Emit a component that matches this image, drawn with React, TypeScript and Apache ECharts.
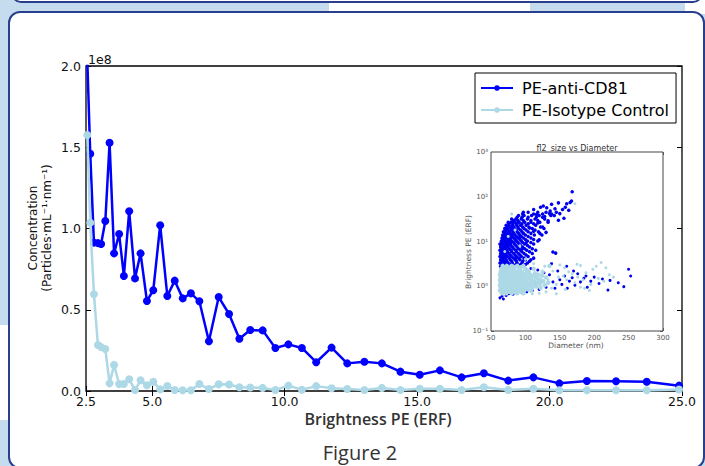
import React, { useEffect, useRef } from 'react';
import * as echarts from 'echarts';

// ---------- main chart data (concentration in units of 1e8) ----------
const binCenters = [2.55, 2.66, 2.8, 2.95, 3.07, 3.23, 3.39, 3.56, 3.75, 3.93, 4.13, 4.35, 4.56, 4.8, 5.04, 5.3, 5.57, 5.85, 6.15, 6.46, 6.78, 7.14, 7.51, 7.9, 8.29, 8.7, 9.17, 9.65, 10.14, 10.65, 11.19, 11.77, 12.36, 13.01, 13.67, 14.37, 15.1, 15.86, 16.68, 17.52, 18.44, 19.39, 20.37, 21.41, 22.51, 23.67, 24.89];
const cd81Conc = [2.03, 1.46, 0.913, 0.91, 0.905, 1.046, 1.528, 0.847, 0.966, 0.708, 1.106, 0.693, 0.847, 0.554, 0.62, 1.02, 0.585, 0.679, 0.57, 0.601, 0.552, 0.306, 0.578, 0.474, 0.322, 0.375, 0.373, 0.265, 0.287, 0.265, 0.177, 0.267, 0.17, 0.18, 0.17, 0.119, 0.1, 0.127, 0.084, 0.109, 0.064, 0.084, 0.047, 0.062, 0.06, 0.057, 0.033];
const isotypeConc = [1.575, 1.036, 0.595, 0.283, 0.27, 0.258, 0.047, 0.16, 0.043, 0.043, 0.072, 0.006, 0.066, 0.035, 0.057, 0.01, 0.031, 0.006, 0.005, 0.005, 0.043, 0.012, 0.041, 0.04, 0.023, 0.022, 0.019, 0.006, 0.033, 0.008, 0.03, 0.017, 0.012, 0.006, 0.019, 0.006, 0.014, 0.014, 0.006, 0.023, 0.006, 0.014, 0.005, 0.005, 0.005, 0.005, 0.009];
const mainXTicks = [2.5, 5, 10, 15, 20, 25];
const seriesNames = ['PE-anti-CD81', 'PE-Isotype Control'];

// ---------- inset scatter data: [diameter nm, brightness ERF] ----------
const insetCd81CloudRows: [number, number[]][] = [
  [2.8, [64, 68, 72, 77, 83, 90, 97]],
  [3.05, [66, 70, 74, 79, 86, 93, 100]],
  [3.3, [63, 66, 70, 75, 81, 88, 95, 103]],
  [3.6, [65, 68, 73, 80, 87, 96, 106]],
  [3.9, [64, 67, 72, 78, 85, 92, 100, 108]],
  [4.25, [65, 68, 71, 77, 83, 90, 98, 112]],
  [4.6, [63, 66, 69, 74, 80, 87, 94, 104]],
  [5.0, [65, 67, 72, 78, 85, 92, 101]],
  [5.4, [64, 68, 71, 76, 83, 90, 98, 110]],
  [5.9, [65, 69, 74, 80, 87, 95, 106]],
  [6.4, [63, 66, 70, 73, 79, 86, 93, 102, 115]],
  [6.9, [65, 68, 72, 77, 83, 90, 99, 110]],
  [7.5, [64, 67, 71, 75, 81, 88, 96, 106]],
  [8.1, [65, 69, 73, 79, 86, 93, 103]],
  [8.8, [63, 65, 69, 73, 77, 84, 91, 99, 112]],
  [9.5, [66, 70, 74, 79, 83, 89, 96, 108]],
  [10.3, [65, 68, 72, 76, 80, 87, 94, 103, 118]],
  [11.1, [67, 70, 74, 78, 85, 92, 100, 112]],
  [12, [66, 70, 74, 78, 83, 89, 97, 108]],
  [13, [68, 72, 76, 81, 87, 94, 104]],
  [14, [67, 71, 75, 80, 85, 92, 100, 113, 124]],
  [15.2, [70, 73, 78, 83, 90, 97, 108, 121]],
  [16.5, [68, 72, 77, 82, 88, 95, 104, 119]],
  [18, [71, 75, 80, 86, 93, 101, 114]],
  [19.5, [70, 74, 79, 84, 90, 98, 110, 127]],
  [21, [73, 78, 83, 89, 96, 105, 122]],
  [23, [72, 76, 81, 87, 93, 101, 115]],
  [25, [76, 82, 88, 95, 104, 112]],
  [27, [75, 79, 85, 91, 99, 108, 121, 133]],
  [29.5, [82, 89, 97, 108, 118]],
  [32, [80, 86, 94, 103, 114, 128]],
  [35, [88, 95, 104, 116, 125]],
  [38, [90, 98, 109, 120, 137]],
  [41, [96, 112, 125, 138]],
  [45, [104, 118, 130, 145]],
];
const insetCd81Sparse: [number, number][] = [
  [112, 52], [122, 58], [126, 62], [131, 57], [136, 48], [138, 68], [143, 54], [148, 73], [150, 42], [154, 52],
  [158, 58], [160, 70], [163, 50], [165, 74], [167, 80], [168, 130], [142, 38], [135, 42], [128, 36], [133, 29],
  [148, 30], [156, 33], [118, 26], [125, 21], [130, 16], [112, 17], [120, 11], [140, 5.8], [144, 5.5], [106, 20],
  [116, 40], [97, 45], [86, 4.2], [74, 8.1], [92, 13], [79, 21], [69, 3.6], [101, 9.4], [83, 29], [95, 6.9],
];
const insetCd81Band: [number, number][] = [
  [63, 0.55], [66, 0.6], [68, 0.52], [72, 0.62], [76, 0.68], [82, 0.66], [88, 0.7], [95, 0.72], [102, 0.75], [110, 0.8],
  [115, 1.1], [120, 0.85], [125, 1.3], [130, 0.95], [135, 1.8], [140, 1.25], [143, 0.9], [147, 2.2], [150, 1.4], [153, 1.1],
  [157, 1.7], [161, 0.9], [164, 1.3], [168, 1.55], [172, 1.05], [176, 1.9], [180, 1.25], [185, 1.5], [190, 0.95], [195, 1.3],
  [200, 1.6], [207, 1.15], [212, 1.45], [220, 0.82], [223, 1.35], [235, 1.2], [243, 0.98], [250, 2.4], [253, 1.7], [138, 3.2],
  [160, 2.8], [118, 2.3], [127, 2.0], [108, 2.5], [170, 2.2], [188, 1.7],
];
const insetIsoCoreRows: [number, number[]][] = [
  [0.7, [66, 72, 80, 88, 97]],
  [0.75, [69, 76, 84, 93]],
  [0.8, [63, 68, 74, 81, 89, 98, 108]],
  [0.86, [66, 71, 78, 85, 94, 103]],
  [0.92, [64, 69, 75, 82, 90, 99, 110, 122]],
  [0.98, [66, 72, 79, 86, 95, 105, 116]],
  [1.05, [63, 67, 72, 78, 85, 93, 102, 114, 128]],
  [1.12, [65, 70, 76, 82, 90, 98, 109, 121]],
  [1.2, [64, 69, 74, 80, 87, 95, 105, 118, 133]],
  [1.29, [66, 71, 77, 84, 92, 101, 113, 126]],
  [1.38, [63, 67, 72, 77, 83, 90, 98, 109, 121]],
  [1.48, [65, 70, 75, 81, 88, 96, 106, 118]],
  [1.58, [64, 68, 73, 79, 86, 94, 103, 115, 130]],
  [1.7, [66, 70, 76, 83, 91, 100, 111, 124]],
  [1.82, [63, 67, 71, 76, 82, 89, 97, 107, 119]],
  [1.95, [65, 69, 74, 79, 85, 93, 101, 114]],
  [2.1, [64, 69, 74, 80, 87, 95, 105, 125]],
  [2.27, [67, 72, 78, 84, 92, 102]],
  [2.45, [65, 70, 76, 83, 91, 100, 112]],
  [2.65, [68, 75, 84, 93]],
  [2.85, [67, 73, 80, 88, 97, 135]],
];
const insetIsoSparse: [number, number][] = [
  [140, 2.2], [145, 1.1], [150, 3.0], [155, 1.7], [160, 1.4], [163, 2.1], [168, 1.9], [172, 1.2], [176, 1.6], [180, 2.9],
  [184, 1.4], [188, 2.0], [193, 0.8], [198, 2.4], [203, 2.8], [206, 1.5], [210, 3.4], [214, 1.3], [217, 2.6], [222, 1.8],
  [228, 1.6], [145, 0.68], [130, 0.75], [120, 0.7], [110, 0.68], [138, 0.9], [158, 0.85], [180, 0.95], [80, 41], [172, 70],
  [75, 13], [92, 8], [70, 6], [85, 18], [100, 4], [112, 3.2], [128, 2.8], [157, 2.6], [175, 3.1], [195, 1.1],
  [133, 1.4], [148, 1.6], [186, 0.9], [118, 1.5],
];

const SUP: Record<string, string> = { '-': '⁻', '0': '⁰', '1': '¹', '2': '²', '3': '³', '4': '⁴' };
const supText = (n: number) => String(n).split('').map((c) => SUP[c] || c).join('');
const flattenRows = (rows: [number, number[]][]) => {
  const out: [number, number][] = [];
  rows.forEach(([y, xs]) => xs.forEach((x) => out.push([x, y])));
  return out;
};

const MPL = 'DejaVu Sans';
const PAGE = '"Open Sans", sans-serif';

export default function App() {
  const ref = useRef<HTMLDivElement>(null);
  useEffect(() => {
    if (!ref.current) return;
    const chart = echarts.init(ref.current, undefined, { renderer: 'svg' });
    const tickStyle = { color: '#000', width: 1 };
    const insetTick = { color: '#444', width: 0.8 };
    const logLabel = (v: number) => '10' + supText(Math.round(Math.log10(v)));
    const option: any = {
      animation: false,
      grid: [
        { left: 86, right: 23, top: 66, bottom: 75, show: true, borderColor: '#000', borderWidth: 1.3, backgroundColor: 'transparent' },
        { left: 491, right: 42, top: 152, bottom: 135, show: true, borderColor: '#444', borderWidth: 1, backgroundColor: '#fff', z: 3 },
      ],
      xAxis: [
        {
          gridIndex: 0, type: 'value', min: 2.5, max: 25, interval: 2.5,
          axisLine: { show: false }, splitLine: { show: false },
          axisTick: { inside: true, length: 5, customValues: mainXTicks, lineStyle: tickStyle },
          axisLabel: { customValues: mainXTicks, formatter: (v: number) => v.toFixed(1), margin: 4, fontSize: 12.5, fontFamily: MPL, color: '#111' },
        },
        {
          gridIndex: 0, type: 'value', position: 'top', min: 2.5, max: 25, interval: 2.5,
          axisLine: { show: false }, splitLine: { show: false },
          axisTick: { inside: true, length: 5, customValues: mainXTicks, lineStyle: tickStyle },
          axisLabel: { show: false },
        },
        {
          gridIndex: 1, type: 'value', min: 50, max: 300, interval: 50,
          axisLine: { show: false }, splitLine: { show: false },
          axisTick: { inside: true, length: 3, lineStyle: insetTick },
          axisLabel: { margin: 3, fontSize: 7, fontFamily: MPL, color: '#555' },
        },
        {
          gridIndex: 1, type: 'value', position: 'top', min: 50, max: 300, interval: 50,
          axisLine: { show: false }, splitLine: { show: false },
          axisTick: { inside: true, length: 3, lineStyle: insetTick },
          axisLabel: { show: false },
        },
      ],
      yAxis: [
        {
          gridIndex: 0, type: 'value', min: 0, max: 2, interval: 0.5,
          axisLine: { show: false }, splitLine: { show: false },
          axisTick: { inside: true, length: 5, lineStyle: tickStyle },
          axisLabel: { formatter: (v: number) => v.toFixed(1), margin: 5, fontSize: 12.5, fontFamily: MPL, color: '#111' },
        },
        {
          gridIndex: 0, type: 'value', position: 'right', min: 0, max: 2, interval: 0.5,
          axisLine: { show: false }, splitLine: { show: false },
          axisTick: { inside: true, length: 5, lineStyle: tickStyle },
          axisLabel: { show: false },
        },
        {
          gridIndex: 1, type: 'log', logBase: 10, min: 0.1, max: 1000,
          axisLine: { show: false }, splitLine: { show: false },
          axisTick: { inside: true, length: 3, lineStyle: insetTick },
          axisLabel: { formatter: logLabel, margin: 3, fontSize: 7, fontFamily: MPL, color: '#555' },
        },
        {
          gridIndex: 1, type: 'log', logBase: 10, min: 0.1, max: 1000, position: 'right',
          axisLine: { show: false }, splitLine: { show: false },
          axisTick: { inside: true, length: 3, lineStyle: insetTick },
          axisLabel: { show: false },
        },
      ],
      legend: {
        orient: 'vertical', left: 475, top: 73,
        backgroundColor: '#fff', borderColor: '#000', borderWidth: 1, borderRadius: 0,
        padding: [7, 7, 5, 5], itemGap: 6, itemWidth: 32, itemHeight: 7,
        textStyle: { fontFamily: MPL, fontSize: 16, color: '#000', padding: [0, 0, 0, 4] },
        data: seriesNames,
      },
      series: [
        {
          name: seriesNames[0], type: 'line', xAxisIndex: 0, yAxisIndex: 0, clip: true,
          data: binCenters.map((x, i) => [x, cd81Conc[i]]),
          symbol: 'circle', symbolSize: 8,
          lineStyle: { color: '#0000ff', width: 2.5 }, itemStyle: { color: '#0000ff' }, z: 2,
        },
        {
          name: seriesNames[1], type: 'line', xAxisIndex: 0, yAxisIndex: 0, clip: true,
          data: binCenters.map((x, i) => [x, isotypeConc[i]]),
          symbol: 'circle', symbolSize: 8,
          lineStyle: { color: '#add8e6', width: 2.5 }, itemStyle: { color: '#add8e6' }, z: 3,
        },
        {
          type: 'scatter', xAxisIndex: 2, yAxisIndex: 2, symbolSize: 3, z: 4,
          data: insetCd81Band, itemStyle: { color: '#0000ee', opacity: 1 },
        },
        {
          type: 'scatter', xAxisIndex: 2, yAxisIndex: 2, symbolSize: 3.5, z: 4,
          data: flattenRows(insetCd81CloudRows).concat(insetCd81Sparse), itemStyle: { color: '#0000ee', opacity: 1 },
        },
        {
          type: 'scatter', xAxisIndex: 2, yAxisIndex: 2, symbolSize: 4.5, z: 5,
          data: flattenRows(insetIsoCoreRows), itemStyle: { color: '#add8e6', opacity: 1 },
        },
        {
          type: 'scatter', xAxisIndex: 2, yAxisIndex: 2, symbolSize: 3, z: 5,
          data: insetIsoSparse, itemStyle: { color: '#add8e6', opacity: 1 },
        },
      ],
      graphic: [
        { type: 'text', x: 88, y: 59, style: { text: '1e8', fontFamily: MPL, fontSize: 12.5, fill: '#111', align: 'left', verticalAlign: 'middle' } },
        {
          type: 'text', x: 40, y: 228, rotation: Math.PI / 2,
          style: { text: 'Concentration\n(Particles·mL⁻¹·nm⁻¹)', fontFamily: MPL, fontSize: 12, lineHeight: 14, fill: '#111', align: 'center', verticalAlign: 'middle' },
        },
        { type: 'text', x: 378, y: 419, style: { text: 'Brightness PE (ERF)', fontFamily: PAGE, fontWeight: 600, fontSize: 16, fill: '#333', align: 'center', verticalAlign: 'middle' } },
        { type: 'text', x: 360, y: 452, style: { text: 'Figure 2', fontFamily: PAGE, fontSize: 20, fill: '#333', align: 'center', verticalAlign: 'middle' } },
        { type: 'text', x: 577, y: 148, style: { text: 'fl2_size vs Diameter', fontFamily: MPL, fontSize: 8, fill: '#333', align: 'center', verticalAlign: 'middle' } },
        { type: 'text', x: 576, y: 345, style: { text: 'Diameter (nm)', fontFamily: MPL, fontSize: 7.5, fill: '#555', align: 'center', verticalAlign: 'middle' } },
        {
          type: 'text', x: 468, y: 252, rotation: Math.PI / 2,
          style: { text: 'Brightness PE (ERF)', fontFamily: MPL, fontSize: 7.5, fill: '#555', align: 'center', verticalAlign: 'middle' },
        },
      ],
    };
    chart.setOption(option);
    return () => chart.dispose();
  }, []);

  const lightBlue = '#c5dcef';
  const navy = '#283f8d';
  return (
    <div style={{ position: 'fixed', left: 0, top: 0, width: 705, height: 466, background: lightBlue, overflow: 'hidden' }}>
      <div style={{ position: 'absolute', left: 329, top: 0, width: 201, height: 14, background: '#fff' }} />
      <div style={{ position: 'absolute', left: 685, top: 0, width: 30, height: 14, background: '#fff' }} />
      <div style={{ position: 'absolute', left: 0, top: 325, width: 14, height: 95, background: '#fff' }} />
      <div style={{ position: 'absolute', left: 11, top: -20, width: 692, height: 23, boxSizing: 'border-box', border: `2px solid ${navy}`, borderRadius: 10, background: '#fff' }} />
      <div style={{ position: 'absolute', left: 8, top: 11, width: 697, height: 458, boxSizing: 'border-box', border: `2px solid ${navy}`, borderRadius: 12, background: '#fff' }} />
      <div ref={ref} style={{ position: 'absolute', left: 0, top: 0, width: 705, height: 466 }} />
    </div>
  );
}
